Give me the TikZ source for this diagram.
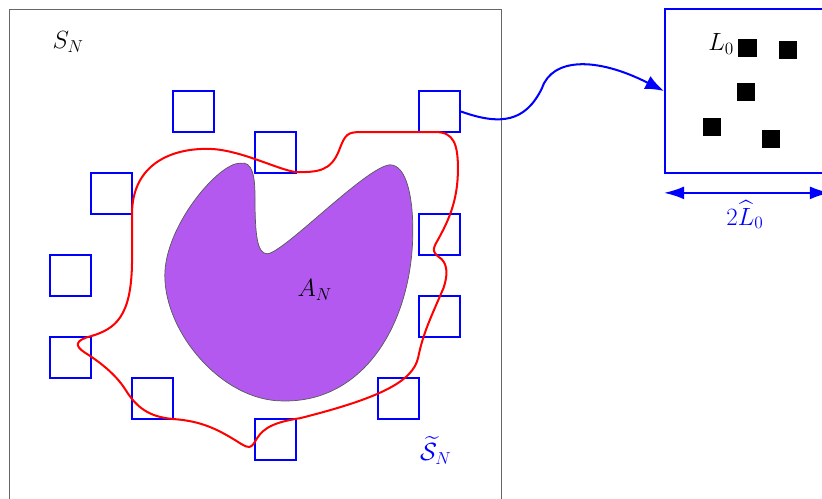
\documentclass[tikz,border=0pt]{standalone}
\usepackage{amsmath}
\usepackage{amssymb}
\usetikzlibrary{arrows.meta, calc}

\begin{document}
\begin{tikzpicture}[
    x=1cm, y=-1cm,
    font=\LARGE,
    frame/.style={rectangle, draw=black!60, line width=0.6pt, minimum size=12cm, inner sep=0pt},
    cell/.style={rectangle, draw=blue, line width=1.4pt, minimum size=1cm, inner sep=0pt},
    window/.style={rectangle, draw=blue, line width=1.4pt, minimum size=4cm, inner sep=0pt},
    site/.style={rectangle, fill=black, minimum size=0.45cm, inner sep=0pt},
    blob/.style={draw=black!65, line width=0.5pt, fill={rgb,255:red,179;green,89;blue,240}},
    boundary/.style={draw=red, line width=1.4pt},
    arrow/.style={-{Latex[length=13pt,width=10pt]}, blue, line width=1.4pt},
    dimarrow/.style={{Latex[length=14pt,width=9pt]}-{Latex[length=14pt,width=9pt]}, blue, line width=1.4pt}
]
    \useasboundingbox (-0.22,-0.22) rectangle (19.83,11.95);
    \clip (-0.22,-0.22) rectangle (19.83,11.95);

    % the domain S_N
    \node[frame] (domain) at (6,6) {};
    \node (SN) at (1.44,0.8) {$S_N$};

    % the set A_N
    \draw[blob] (5.63,3.76) .. controls (5.95,3.7) and (6.0,4.1) .. (6.0,4.6)
        .. controls (6.0,5.5) and (6.05,5.97) .. (6.3,5.97)
        .. controls (6.7,5.95) and (8.7,3.85) .. (9.29,3.8)
        .. controls (9.7,3.8) and (9.85,4.6) .. (9.85,5.4)
        .. controls (9.85,7.6) and (8.7,9.6) .. (6.68,9.56)
        .. controls (5.2,9.56) and (3.8,7.9) .. (3.8,6.5)
        .. controls (3.8,5.3) and (5.1,3.76) .. (5.63,3.76) -- cycle;
    \node (AN) at (7.46,6.85) {$A_N$};

    % boxes of size L_0
    \foreach \c/\r [count=\i] in {4/2, 10/2, 6/3, 2/4, 10/5, 1/6, 10/7, 1/8, 3/9, 9/9, 6/10}
        \node[cell] (c\i) at (\c+0.5,\r+0.5) {};

    % the boundary
    \draw[boundary] (3.0,5.0) .. controls (3.0,3.9) and (3.8,3.41) .. (4.83,3.41)
        .. controls (5.6,3.41) and (6.5,3.9) .. (7.0,3.98)
        .. controls (7.55,3.98) and (7.85,3.95) .. (8.05,3.45)
        .. controls (8.2,3.05) and (8.25,3.0) .. (8.6,3.0)
        -- (10.4,3.0)
        .. controls (10.85,3.0) and (10.95,3.3) .. (10.95,3.9)
        .. controls (10.95,4.7) and (10.7,5.2) .. (10.45,5.65)
        .. controls (10.3,5.9) and (10.35,5.95) .. (10.55,6.1)
        .. controls (10.7,6.25) and (10.7,6.5) .. (10.6,6.8)
        .. controls (10.3,7.5) and (10.1,7.9) .. (9.98,8.5)
        .. controls (9.85,9.1) and (9.0,9.5) .. (7.1,9.98)
        .. controls (6.3,10.1) and (6.15,10.3) .. (6.0,10.55)
        .. controls (5.9,10.72) and (5.85,10.72) .. (5.65,10.6)
        .. controls (5.1,10.25) and (4.7,10.05) .. (4.0,10.0)
        .. controls (3.4,9.95) and (3.1,9.7) .. (2.85,9.3)
        .. controls (2.6,8.9) and (2.2,8.6) .. (1.85,8.38)
        .. controls (1.6,8.22) and (1.6,8.08) .. (2.0,7.98)
        .. controls (2.6,7.8) and (2.98,7.5) .. (3.0,6.2)
        -- cycle;
    \node[blue] (tSN) at (10.41,10.76) {$\widetilde{\mathcal{S}}_N$};

    % zoomed window
    \node[window] (zoom) at (18,2) {};
    \node (L0) at (17.37,0.85) {$L_0$};
    \node[site] (s1) at (18.01,0.95) {};
    \node[site] (s2) at (19.0,1.0) {};
    \node[site] (s3) at (17.98,2.02) {};
    \node[site] (s4) at (17.15,2.88) {};
    \node[site] (s5) at (18.59,3.17) {};

    \draw[arrow] (c2.east) .. controls (12.0,2.85) and (12.6,2.75) .. (13.0,1.93)
        .. controls (13.25,1.2) and (14.3,1.15) .. (zoom.west);

    \coordinate (dimL) at ($(zoom.south west)+(0,0.46)$);
    \coordinate (dimR) at ($(zoom.south east)+(0,0.46)$);
    \draw[dimarrow] (dimL) -- (dimR);
    \node[blue] (dimlabel) at (17.95,5.02) {$2\widehat{L}_0$};
\end{tikzpicture}
\end{document}
